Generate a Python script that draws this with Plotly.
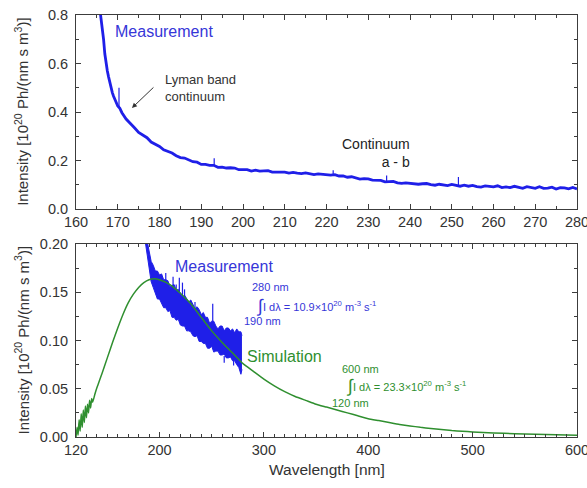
import plotly.graph_objects as go

# ---- Upper panel: measured spectrum, 160-280 nm ----
lam_top = [165.6, 166.0, 166.3, 166.6, 166.9, 167.2, 167.5, 167.8, 168.1, 168.4,
           168.7, 169.0, 169.3, 169.6, 170.0, 170.5,
           171, 172, 173, 174, 175, 176, 177, 178, 179, 180,
           181, 182, 183, 184, 185, 186, 187, 188, 189, 190,
           191, 192, 193, 194, 195, 196, 197, 198, 199, 200,
           201, 202, 203, 204, 205, 206, 207, 208, 209, 210,
           211, 212, 213, 214, 215, 216, 217, 218, 219, 220,
           221, 222, 223, 224, 225, 226, 227, 228, 229, 230,
           231, 232, 233, 234, 235, 236, 237, 238, 239, 240,
           241, 242, 243, 244, 245, 246, 247, 248, 249, 250,
           251, 252, 253, 254, 255, 256, 257, 258, 259, 260,
           261, 262, 263, 264, 265, 266, 267, 268, 269, 270,
           271, 272, 273, 274, 275, 276, 277, 278, 279, 280]
int_top = [0.84, 0.79, 0.75, 0.70, 0.64, 0.60, 0.57, 0.545, 0.52, 0.50,
           0.48, 0.465, 0.452, 0.44, 0.425, 0.415,
           0.397, 0.371, 0.355, 0.335, 0.316, 0.305, 0.294, 0.276, 0.266, 0.258,
           0.244, 0.238, 0.231, 0.220, 0.212, 0.210, 0.201, 0.195, 0.193, 0.184,
           0.184, 0.180, 0.180, 0.172, 0.173, 0.169, 0.170, 0.169, 0.162, 0.162,
           0.162, 0.156, 0.160, 0.156, 0.157, 0.158, 0.152, 0.153, 0.151, 0.152,
           0.148, 0.151, 0.148, 0.146, 0.149, 0.144, 0.142, 0.145, 0.143, 0.139,
           0.140, 0.142, 0.136, 0.136, 0.131, 0.133, 0.128, 0.123, 0.125, 0.124,
           0.119, 0.118, 0.118, 0.112, 0.113, 0.114, 0.108, 0.106, 0.108, 0.106,
           0.107, 0.102, 0.104, 0.105, 0.1005, 0.098, 0.102, 0.099, 0.0965, 0.101,
           0.0985, 0.094, 0.098, 0.094, 0.0975, 0.092, 0.0905, 0.095, 0.0935, 0.091,
           0.0955, 0.088, 0.0915, 0.088, 0.0935, 0.088, 0.085, 0.092, 0.0895, 0.085,
           0.0915, 0.085, 0.086, 0.090, 0.0825, 0.088, 0.087, 0.083, 0.0885, 0.083]

# isolated narrow lines on top of the continuum: position, foot, peak
spike_top_lam = [170.3, 193.1, 221.6, 234.4, 251.6]
spike_top_lo = [0.420, 0.178, 0.140, 0.115, 0.097]
spike_top_hi = [0.500, 0.209, 0.160, 0.138, 0.132]

# ---- Lower panel: measured band (upper / lower edge), 186-279 nm ----
lam_band = [186, 188, 190, 192, 194, 196, 198, 200, 202, 204, 206, 208, 210, 212,
            214, 216, 218, 220, 222, 224, 226, 228, 230, 232, 234, 236, 238,
            240, 242, 244, 246, 248, 250, 252, 254, 256, 258, 260, 262, 264,
            266, 268, 270, 272, 274, 276, 278, 279]
band_hi = [0.215, 0.205, 0.192, 0.182, 0.178, 0.172, 0.172, 0.168, 0.169, 0.163,
           0.163, 0.162, 0.156, 0.157, 0.158, 0.152, 0.153, 0.149, 0.145, 0.147,
           0.144, 0.140, 0.142, 0.137, 0.133, 0.135, 0.132, 0.127, 0.129, 0.124,
           0.124, 0.118, 0.120, 0.120, 0.115, 0.112, 0.115, 0.115, 0.110, 0.113,
           0.113, 0.110, 0.112, 0.108, 0.112, 0.109, 0.109, 0.105]
band_lo = [0.205, 0.190, 0.176, 0.161, 0.155, 0.149, 0.143, 0.143, 0.139, 0.134,
           0.134, 0.130, 0.131, 0.124, 0.124, 0.121, 0.122, 0.116, 0.115, 0.115,
           0.110, 0.110, 0.109, 0.105, 0.104, 0.105, 0.099, 0.099, 0.097, 0.097,
           0.092, 0.092, 0.094, 0.088, 0.089, 0.089, 0.085, 0.085, 0.086, 0.082,
           0.082, 0.083, 0.079, 0.079, 0.075, 0.072, 0.065, 0.070]

spike_bot_lam = [206, 213, 216, 219, 222, 224, 234, 251, 262, 271]
spike_bot_lo = [0.160, 0.155, 0.150, 0.150, 0.145, 0.144, 0.132, 0.118, 0.084, 0.081]
spike_bot_hi = [0.170, 0.166, 0.158, 0.165, 0.160, 0.153, 0.140, 0.138, 0.077, 0.074]

# ---- Lower panel: simulated spectrum, 120-600 nm ----
lam_sim = [120, 121, 122, 123, 124, 125, 126, 127, 128, 129, 130, 131, 132, 133,
           134, 135, 136, 138, 140, 142, 145, 150, 155, 160, 165, 170, 175, 180,
           185, 190, 195, 200, 210, 220, 230, 240, 250, 260, 270, 280, 290, 300,
           310, 320, 330, 340, 350, 360, 370, 380, 390, 400, 410, 420, 430, 440,
           450, 460, 470, 480, 490, 500, 520, 540, 560, 580, 600]
int_sim = [0.000, 0.010, 0.002, 0.018, 0.006, 0.024, 0.010, 0.028, 0.015, 0.032,
           0.020, 0.034, 0.025, 0.038, 0.030, 0.040, 0.036, 0.044, 0.051, 0.057,
           0.066, 0.082, 0.098, 0.113, 0.127, 0.139, 0.148, 0.155, 0.160, 0.163,
           0.164, 0.163, 0.158, 0.149, 0.138, 0.124, 0.110, 0.098, 0.087, 0.076,
           0.068, 0.060, 0.053, 0.047, 0.042, 0.038, 0.034, 0.031, 0.028, 0.025,
           0.022, 0.019, 0.017, 0.015, 0.013, 0.0115, 0.010, 0.0088, 0.0077,
           0.0067, 0.0060, 0.0053, 0.0042, 0.0034, 0.0028, 0.0023, 0.0019]

x_ticks_bottom = [120, 200, 300, 400, 500, 600]

BLUE = "#1f1fe8"
BLUE_TXT = "#3636d8"
GREEN = "#2f8f2f"
AXIS = "#3c3c3c"
FONT = "Liberation Sans, Arial, sans-serif"


def segments(xs, lo, hi):
    sx, sy = [], []
    for x, a, b in zip(xs, lo, hi):
        sx += [x, x, None]
        sy += [a, b, None]
    return sx, sy


fig = go.Figure()

# upper panel
fig.add_trace(go.Scatter(x=lam_top, y=int_top, xaxis="x2", yaxis="y2",
                         mode="lines", line=dict(color=BLUE, width=2.8),
                         hoverinfo="skip"))
sx, sy = segments(spike_top_lam, spike_top_lo, spike_top_hi)
fig.add_trace(go.Scatter(x=sx, y=sy, xaxis="x2", yaxis="y2", mode="lines",
                         line=dict(color=BLUE, width=1.2), hoverinfo="skip"))

# lower panel: measured band
fig.add_trace(go.Scatter(x=lam_band, y=band_lo, xaxis="x", yaxis="y",
                         mode="lines", line=dict(color=BLUE, width=1),
                         hoverinfo="skip"))
fig.add_trace(go.Scatter(x=lam_band, y=band_hi, xaxis="x", yaxis="y",
                         mode="lines", line=dict(color=BLUE, width=1),
                         fill="tonexty", fillcolor=BLUE, hoverinfo="skip"))
sx, sy = segments(spike_bot_lam, spike_bot_lo, spike_bot_hi)
fig.add_trace(go.Scatter(x=sx, y=sy, xaxis="x", yaxis="y", mode="lines",
                         line=dict(color=BLUE, width=1.2), hoverinfo="skip"))

# lower panel: simulation
fig.add_trace(go.Scatter(x=lam_sim, y=int_sim, xaxis="x", yaxis="y",
                         mode="lines", line=dict(color=GREEN, width=1.5,
                                                 shape="spline", smoothing=0.4),
                         hoverinfo="skip"))

axis_common = dict(showline=True, linecolor=AXIS, linewidth=1, mirror="ticks",
                   ticks="inside", ticklen=5, tickcolor=AXIS, showgrid=False,
                   zeroline=False, ticklabeloverflow="allow", automargin=False,
                   tickfont=dict(family=FONT, size=14.5, color="#333333"))

fig.update_layout(
    width=587, height=488,
    margin=dict(l=76, r=10, t=15, b=51),
    paper_bgcolor="white", plot_bgcolor="white",
    showlegend=False,
    font=dict(family=FONT, color="#333333"),
    xaxis2=dict(axis_common, domain=[0, 1], anchor="y2", range=[160, 280],
                tickmode="linear", tick0=160, dtick=10,
                minor=dict(ticks="inside", ticklen=3, dtick=5, tick0=160,
                           tickcolor=AXIS)),
    yaxis2=dict(axis_common, domain=[0.5403, 1.0], anchor="x2", range=[0, 0.8],
                tickmode="linear", tick0=0, dtick=0.2, tickformat=".1f",
                ticklabelstandoff=4,
                minor=dict(ticks="inside", ticklen=3, dtick=0.1, tick0=0,
                           tickcolor=AXIS)),
    xaxis=dict(axis_common, domain=[0, 1], anchor="y", range=[120, 600],
               tickmode="array", tickvals=x_ticks_bottom,
               minor=dict(ticks="inside", ticklen=3, dtick=10, tick0=120,
                          tickcolor=AXIS)),
    yaxis=dict(axis_common, domain=[0, 0.4573], anchor="x", range=[0, 0.2],
               tickmode="linear", tick0=0, dtick=0.05, tickformat=".2f",
               ticklabelstandoff=4,
               minor=dict(ticks="inside", ticklen=3, dtick=0.025, tick0=0,
                          tickcolor=AXIS)),
)

ytitle = "Intensity [10<sup>20</sup> Ph/(nm s m<sup>3</sup>)]"
ann = []
# axis titles
ann.append(dict(text=ytitle, xref="paper", yref="paper", x=-0.108, y=0.7702,
                textangle=-90, showarrow=False, xanchor="center", yanchor="middle",
                font=dict(size=15, color="#333333")))
ann.append(dict(text=ytitle, xref="paper", yref="paper", x=-0.108, y=0.2287,
                textangle=-90, showarrow=False, xanchor="center", yanchor="middle",
                font=dict(size=15, color="#333333")))
ann.append(dict(text="Wavelength [nm]", xref="paper", yref="paper", x=0.5,
                y=-0.078, showarrow=False, xanchor="center", yanchor="middle",
                font=dict(size=15.5, color="#333333")))

# upper panel labels
ann.append(dict(text="Measurement", xref="x2", yref="y2", x=168.8, y=0.73,
                showarrow=False, xanchor="left", yanchor="middle",
                font=dict(size=16, color=BLUE_TXT)))
ann.append(dict(text="Lyman band<br>continuum", xref="x2", yref="y2", x=180.8,
                y=0.497, showarrow=False, xanchor="left", yanchor="middle",
                align="left", font=dict(size=13, color="#333333")))
ann.append(dict(text="", xref="x2", yref="y2", x=173.4, y=0.4165, ax=23, ay=-22,
                showarrow=True, arrowhead=2, arrowsize=1, arrowwidth=1,
                arrowcolor="#333333"))
ann.append(dict(text="Continuum<br>a - b", xref="x2", yref="y2", x=240.5,
                y=0.231, showarrow=False, xanchor="right", yanchor="middle",
                align="right", font=dict(size=14, color="#222222")))

# lower panel labels
def small(text, x, y, color, size=11):
    return dict(text=text, xref="x", yref="y", x=x, y=y, showarrow=False,
                xanchor="left", yanchor="middle", font=dict(size=size, color=color))

ann.append(small("Measurement", 212.9, 0.1762, BLUE_TXT, 16))
ann.append(small("280 nm", 286.7, 0.1554, BLUE_TXT))
ann.append(small("∫", 290.5, 0.1355, BLUE_TXT, 18))
ann.append(small("I dλ = 10.9×10<sup>20</sup> m<sup>-3</sup> s<sup>-1</sup>",
                 297.5, 0.1358, BLUE_TXT))
ann.append(small("190 nm", 279.0, 0.1202, BLUE_TXT))
ann.append(small("Simulation", 281.9, 0.0839, GREEN, 16))
ann.append(small("600 nm", 372.9, 0.0705, GREEN))
ann.append(small("∫", 376.7, 0.0525, GREEN, 18))
ann.append(small("I dλ = 23.3×10<sup>20</sup> m<sup>-3</sup> s<sup>-1</sup>",
                 383.7, 0.0528, GREEN))
ann.append(small("120 nm", 363.4, 0.0352, GREEN))

fig.update_layout(annotations=ann)

fig.write_html("out.html")
